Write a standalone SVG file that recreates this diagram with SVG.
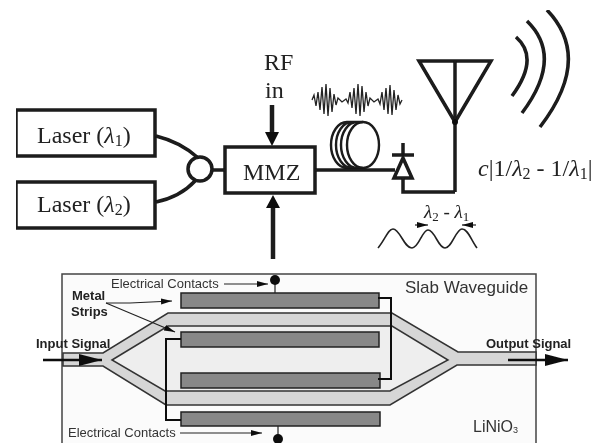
<svg xmlns="http://www.w3.org/2000/svg" width="601" height="443" viewBox="0 0 601 443">
<style>
.b{fill:none;stroke:#1a1a1a;stroke-width:3.5}
.w{fill:#fff;stroke:#1a1a1a;stroke-width:3.5}
.t{font-family:"Liberation Serif",serif;fill:#222;font-size:24px}
.s{font-family:"Liberation Sans",sans-serif;fill:#333}
.sb{font-family:"Liberation Sans",sans-serif;fill:#222;font-weight:bold}
.strip{fill:#888;stroke:#222;stroke-width:1.5}
.wg{fill:#d6d6d6;stroke:#333;stroke-width:1.5}
.c{fill:none;stroke:#111;stroke-width:2}
.th{fill:none;stroke:#222;stroke-width:1.2}
</style>
<defs>
<filter id="soft" x="0" y="0" width="100%" height="100%"><feGaussianBlur stdDeviation="0.45"/></filter>
<marker id="ah" markerWidth="12" markerHeight="8" refX="11" refY="4" orient="auto" markerUnits="userSpaceOnUse"><path d="M0 1L11 4L0 7Z" fill="#111"/></marker>
<marker id="big" markerWidth="24" markerHeight="14" refX="23" refY="7" orient="auto" markerUnits="userSpaceOnUse"><path d="M0 1L23 7L0 13Z" fill="#111"/></marker>
</defs>
<rect width="601" height="443" fill="#fff"/>
<g filter="url(#soft)">
<g id="slab"><path d="M62 443V274H536V443" fill="#fbfbfb" stroke="#444" stroke-width="1.5"/>
<text class="s" x="405" y="293" font-size="17">Slab Waveguide</text>
<text class="s" x="473" y="432" font-size="16">LiNiO<tspan font-size="9" dy="1">3</tspan></text></g>
<g id="waveguide"><path class="wg" d="M63 353H103L168 313H392L458 352H536V365H457L390 405H166L103 366H63Z"/>
<path d="M112 360L168 326H392L448 360L390 391H165Z" fill="#eee" stroke="#333" stroke-width="1.5"/></g>
<g id="strip1"><rect class="strip" x="181" y="293" width="198" height="15"/></g>
<g id="strip2"><rect class="strip" x="181" y="332" width="198" height="15"/></g>
<g id="strip3"><rect class="strip" x="181" y="373" width="199" height="15"/></g>
<g id="strip4"><rect class="strip" x="181" y="412" width="199" height="14"/></g>
<g id="laser1"><rect class="w" x="16" y="110" width="139" height="46"/><text class="t" x="37" y="143">Laser (<tspan font-style="italic">λ</tspan><tspan font-size="16" dy="3">1</tspan><tspan dy="-3">)</tspan></text></g>
<g id="laser2"><rect class="w" x="16" y="182" width="139" height="46"/><text class="t" x="37" y="212">Laser (<tspan font-style="italic">λ</tspan><tspan font-size="16" dy="3">2</tspan><tspan dy="-3">)</tspan></text></g>
<g id="coupler"><circle class="b" cx="200" cy="169" r="12"/></g>
<g id="mmz"><rect class="w" x="225" y="147" width="90" height="46"/><text class="t" x="243" y="180">MMZ</text></g>
<g id="rf"><text class="t" x="264" y="70">RF</text><text class="t" x="265" y="98">in</text></g>
<g id="fiber"><ellipse class="b" style="stroke-width:2.4" cx="363" cy="145" rx="16" ry="23"/><path class="b" style="stroke-width:2.4" d="M363 122H347A16 23 0 0 0 347 168H363M363 122H352A16 23 0 0 0 352 168H363M363 122H357A16 23 0 0 0 357 168H363"/></g>
<g id="photodiode"><path class="b" d="M403 143V155M392 155H414"/><path class="b" d="M403 158L412 178H394Z"/></g>
<g id="antenna"><path class="b" d="M419 61H491L455 122Z"/><path class="b" d="M455 61V192"/><circle cx="455" cy="122" r="3" fill="#111"/></g>
<g id="waves"><path class="b" d="M516 37Q540 58 512 96M527 21Q564 57 522 113M547 10Q593 58 540 127"/></g>
<g id="signal"><path fill="none" stroke="#222" stroke-width="1.3" d="M312 100L314 95L316 106L318 92L320 110L322 87L324 114L326 84L328 116L330 88L332 112L334 94L336 105L338 98L342 102L346 99L348 103L350 92L352 108L354 88L356 114L358 84L360 116L362 86L364 112L366 92L368 106L370 98L374 102L378 99L380 104L382 92L384 110L386 88L388 114L390 85L392 115L394 90L396 110L398 95L400 104L402 100"/></g>
<g id="beat"><path class="th" style="stroke-width:1.6" d="M378 248C385 240 388 229 393 229C400 229 404 248 412 248C419 248 422 230 428 230C435 230 438 248 445 248C452 248 456 229 462 229C468 229 471 240 477 248"/>
<text class="t" style="font-size:19px" x="424" y="218"><tspan font-style="italic">λ</tspan><tspan font-size="13" dy="3">2</tspan><tspan dy="-3"> - </tspan><tspan font-style="italic">λ</tspan><tspan font-size="13" dy="3">1</tspan></text></g>
<g id="freq"><text class="t" x="478" y="176"><tspan font-style="italic">c</tspan>|1/<tspan font-style="italic">λ</tspan><tspan font-size="16" dy="3">2</tspan><tspan dy="-3"> - 1/</tspan><tspan font-style="italic">λ</tspan><tspan font-size="16" dy="3">1</tspan><tspan dy="-3">|</tspan></text></g>
<g id="connectors">
<path class="b" d="M156 136Q180 142 197 157M156 202Q180 197 195 181M212 170H225M315 170H395M403 178V192H455"/>
<path class="b" style="stroke-width:4.5" d="M272 105V134M273 259V206"/>
<path d="M265 132H279L272 146Z M266 208H280L273 195Z" fill="#111"/>
<path class="th" marker-end="url(#ah)" d="M415 225H428"/><path class="th" marker-end="url(#ah)" d="M476 225H462"/>
<path class="c" d="M181 339H166V420H181M378 298H391V379H378"/>
<path class="th" d="M275 280V293M278 426V439"/><circle cx="275" cy="280" r="5" fill="#111"/><circle cx="278" cy="439" r="5" fill="#111"/>
<path class="th" marker-end="url(#ah)" d="M224 284H268"/>
<path class="th" marker-end="url(#ah)" d="M106 303L130 303L172 301"/>
<path class="th" marker-end="url(#ah)" d="M106 303L175 332"/>
<path class="th" marker-end="url(#ah)" d="M180 433H262"/>
<path stroke="#111" stroke-width="2.5" marker-end="url(#big)" d="M43 360H102"/>
<path stroke="#111" stroke-width="2.5" marker-end="url(#big)" d="M508 360H568"/>
</g>
<g id="labels">
<text class="s" x="111" y="288" font-size="13">Electrical Contacts</text>
<text class="s" x="68" y="437" font-size="13">Electrical Contacts</text>
<text class="sb" x="72" y="300" font-size="13">Metal</text>
<text class="sb" x="71" y="316" font-size="13">Strips</text>
<text class="sb" x="36" y="348" font-size="13">Input Signal</text>
<text class="sb" x="486" y="348" font-size="13">Output Signal</text>
</g>
</g>
</svg>
